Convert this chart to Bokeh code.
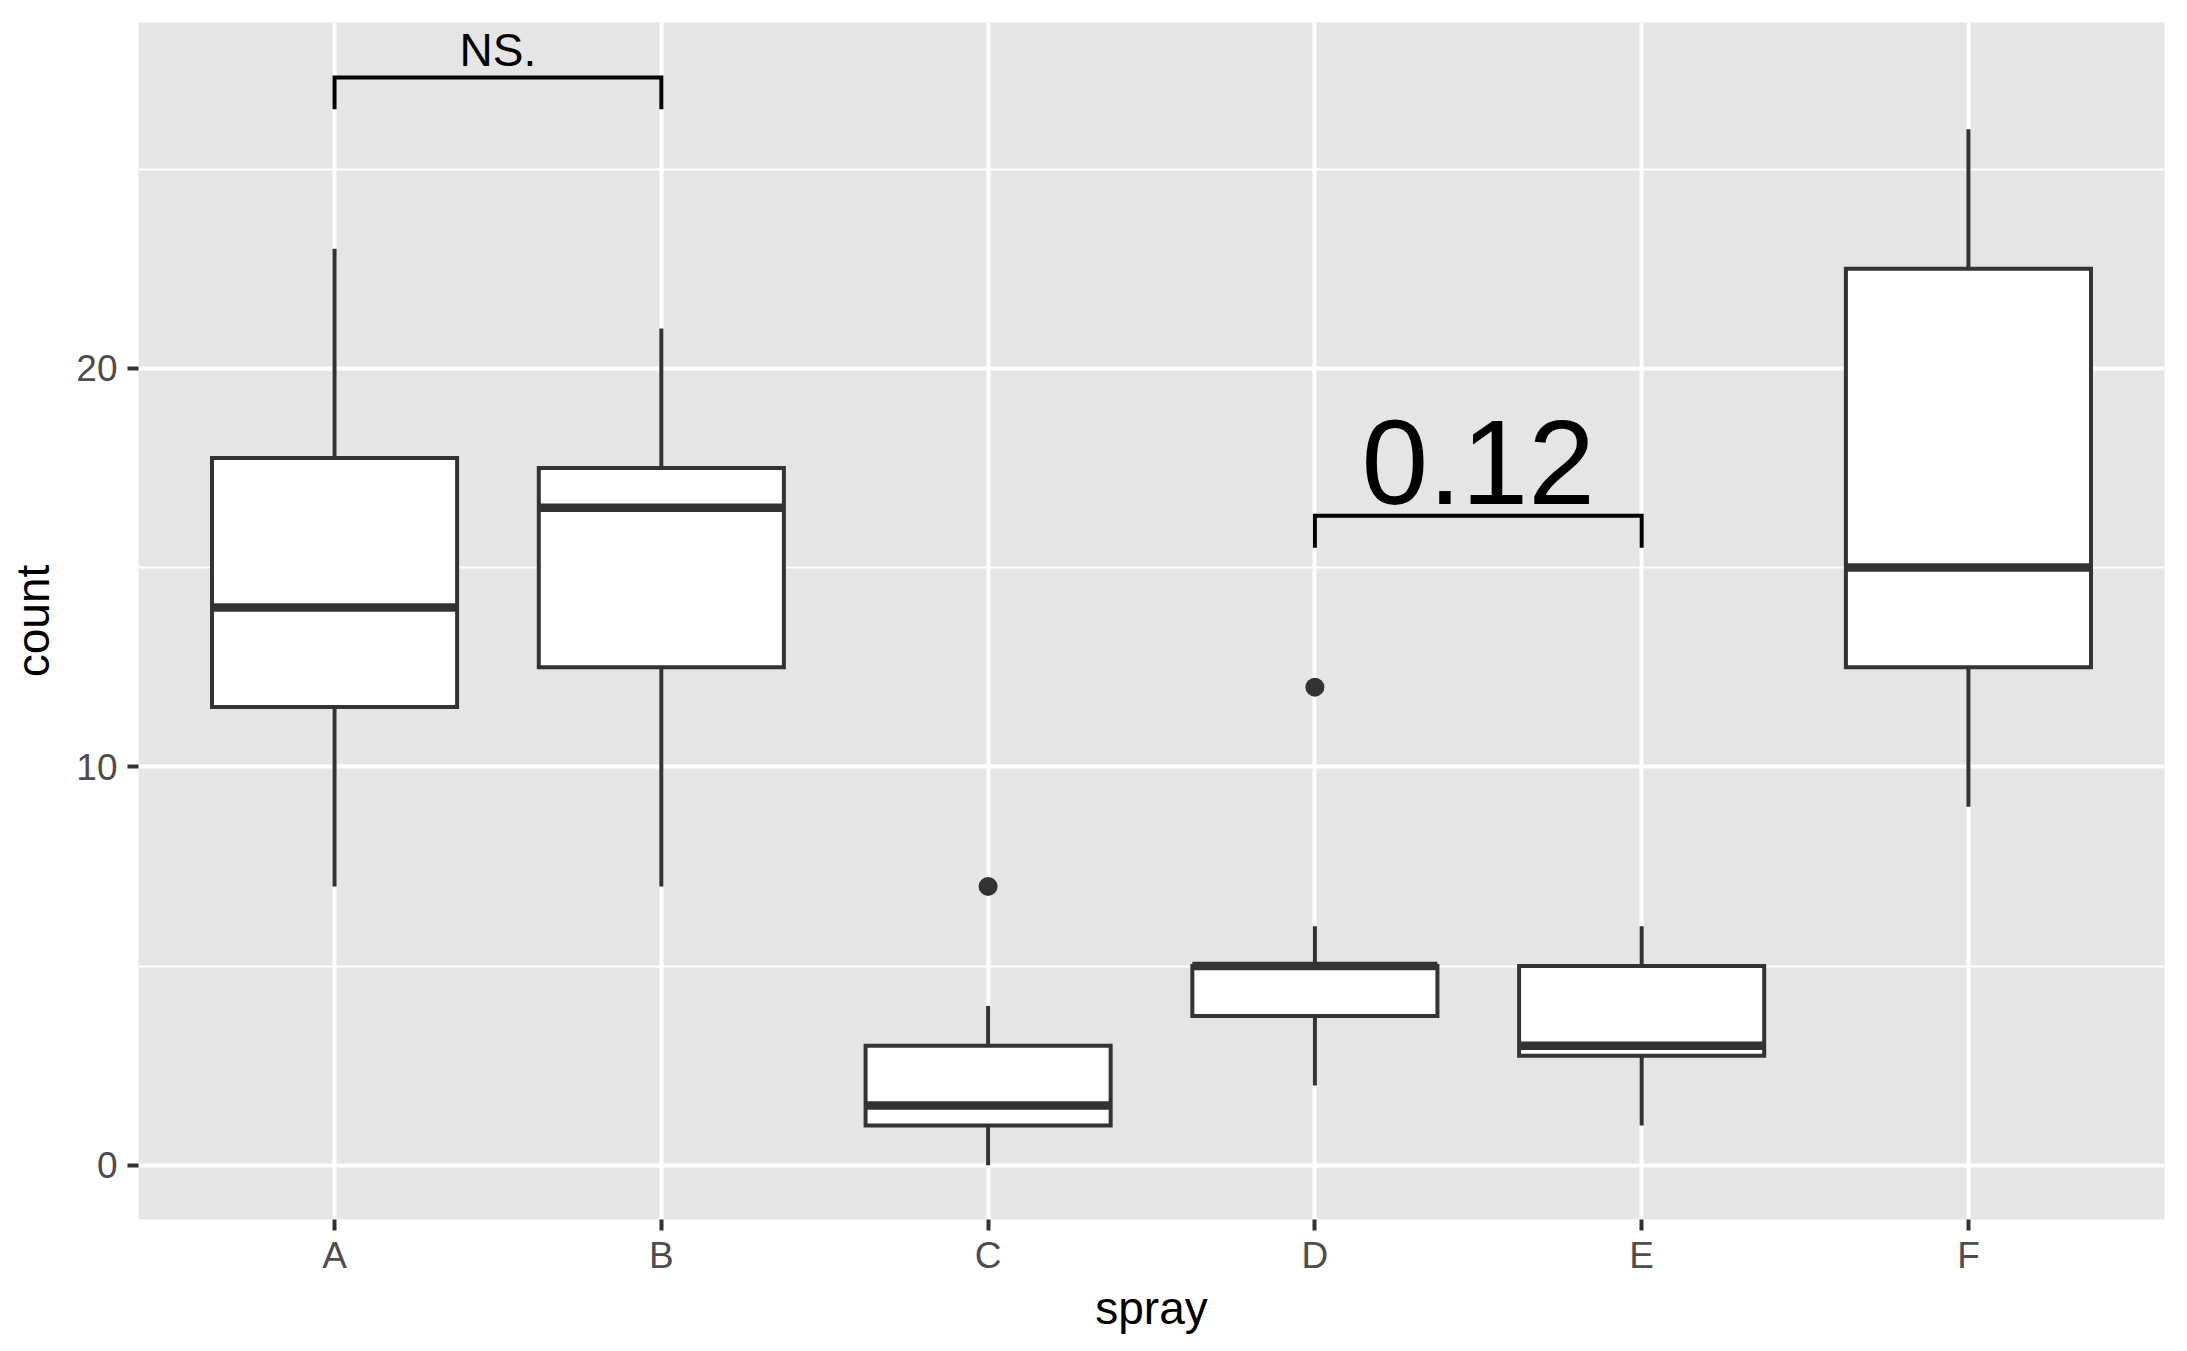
from bokeh.plotting import figure
from bokeh.models import Range1d, FixedTicker
from bokeh.embed import file_html
from bokeh.resources import INLINE
from bokeh.core.properties import value

# ---- data (InsectSprays boxplot) ----
sprays = ["A", "B", "C", "D", "E", "F"]
lower_whisker = [7, 7, 0, 2, 1, 9]
q1 = [11.5, 12.5, 1, 3.75, 2.75, 12.5]
median = [14, 16.5, 1.5, 5, 3, 15]
q3 = [17.75, 17.5, 3, 5, 5, 22.5]
upper_whisker = [23, 21, 4, 6, 6, 26]
outlier_spray = ["C", "D"]
outlier_value = [7, 12]

# significance brackets
bracket_pairs = [("A", "B"), ("D", "E")]
bracket_labels = ["NS.", "0.12"]
bracket_y = [27.3, 16.3]
bracket_tip = [26.5, 15.5]

y_ticks = [0, 10, 20]
y_minor = [5, 15, 25]

# ---- positions through the numeric scale ----
pos = {s: i + 1 for i, s in enumerate(sprays)}
xs = [pos[s] for s in sprays]
half = 0.375

FONT = "Liberation Sans"
DARK = "#333333"
LW = 4

p = figure(width=2187, height=1351, output_backend="svg", toolbar_location=None,
           x_range=Range1d(0.4, 6.6), y_range=Range1d(-1.36, 28.68),
           min_border_left=138, min_border_right=23, min_border_top=22,
           min_border_bottom=132)
p.background_fill_color = "#E5E5E5"
p.border_fill_color = "white"
p.outline_line_color = None

# axes
p.xaxis.ticker = FixedTicker(ticks=xs)
p.xaxis.major_label_overrides = {pos[s]: s for s in sprays}
p.yaxis.ticker = FixedTicker(ticks=y_ticks, minor_ticks=y_minor)
for ax in (p.xaxis[0], p.yaxis[0]):
    ax.axis_line_color = None
    ax.major_tick_line_color = DARK
    ax.major_tick_line_width = LW
    ax.major_tick_out = 11
    ax.major_tick_in = 0
    ax.minor_tick_out = 0
    ax.minor_tick_in = 0
    ax.major_label_text_font = FONT
    ax.major_label_text_font_size = "37px"
    ax.major_label_text_color = "#4D4D4D"
    ax.axis_label_text_font = FONT
    ax.axis_label_text_font_size = "46px"
    ax.axis_label_text_font_style = "normal"
    ax.axis_label_text_color = "black"
p.xaxis.axis_label = "spray"
p.yaxis.axis_label = "count"
p.xaxis.major_label_standoff = 4
p.yaxis.major_label_standoff = 10
p.xaxis.axis_label_standoff = 3
p.yaxis.axis_label_standoff = 14

# grid
p.xgrid.grid_line_color = "white"
p.xgrid.grid_line_width = 4
p.ygrid.grid_line_color = "white"
p.ygrid.grid_line_width = 4
p.ygrid.minor_grid_line_color = "white"
p.ygrid.minor_grid_line_width = 2.2

# whiskers
p.segment(x0=xs, y0=q3, x1=xs, y1=upper_whisker, line_color=DARK, line_width=LW)
p.segment(x0=xs, y0=q1, x1=xs, y1=lower_whisker, line_color=DARK, line_width=LW)

# boxes
p.quad(left=[x - half for x in xs], right=[x + half for x in xs], bottom=q1, top=q3,
       fill_color="white", line_color=DARK, line_width=LW, line_join="miter")
# medians
p.segment(x0=[x - half for x in xs], y0=median, x1=[x + half for x in xs], y1=median,
          line_color=DARK, line_width=8.5, line_cap="butt")

# outliers
p.scatter(x=[pos[s] for s in outlier_spray], y=outlier_value, size=19,
          fill_color=DARK, line_color=DARK, line_width=0)

# brackets
bx, by = [], []
for (a, b), yv, tip in zip(bracket_pairs, bracket_y, bracket_tip):
    bx.append([pos[a], pos[a], pos[b], pos[b]])
    by.append([tip, yv, yv, tip])
p.multi_line(xs=bx, ys=by, line_color="black", line_width=LW, line_join="miter")

mid = [(pos[a] + pos[b]) / 2 for a, b in bracket_pairs]
p.text(x=[mid[0]], y=[bracket_y[0]], text=[bracket_labels[0]], text_font=value(FONT),
       text_font_size="46px", text_align="center", text_baseline="alphabetic",
       y_offset=-27, text_color="black")
p.text(x=[mid[1]], y=[bracket_y[1]], text=[bracket_labels[1]], text_font=value(FONT),
       text_font_size="120px", text_align="center", text_baseline="alphabetic",
       y_offset=-53, text_color="black")

open("out.html", "w").write(file_html(p, INLINE))
